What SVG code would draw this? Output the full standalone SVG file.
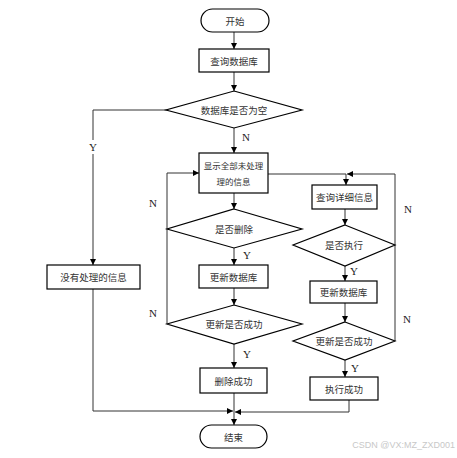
<svg xmlns="http://www.w3.org/2000/svg" width="457" height="458" viewBox="0 0 457 458">
<style>
.s{fill:#fff;stroke:#000;stroke-width:1.2}
.t{font-family:"Noto Sans CJK SC","Noto Sans",sans-serif;font-size:9.5px;fill:#333;text-anchor:middle;dominant-baseline:central}
.l{font-family:"Liberation Serif",serif;font-size:11px;fill:#222;text-anchor:middle;dominant-baseline:central}
.c{fill:none;stroke:#333;stroke-width:1}
</style>
<defs>
<marker id="a" viewBox="0 0 8 8" refX="8" refY="4" markerWidth="6" markerHeight="6" orient="auto" markerUnits="userSpaceOnUse">
<path d="M0,0 L8,4 L0,8 z" fill="#000"/>
</marker>
</defs>
<rect width="457" height="458" fill="#fff"/>
<g id="connectors">
<path class="c" d="M234,32 V49" marker-end="url(#a)"/>
<path class="c" d="M234,72 V91" marker-end="url(#a)"/>
<path class="c" d="M234,128 V153" marker-end="url(#a)"/>
<path class="c" d="M167,110 H93 V265" marker-end="url(#a)"/>
<path class="c" d="M93,289 V411 H233" marker-end="url(#a)"/>
<path class="c" d="M234,193 V209" marker-end="url(#a)"/>
<path class="c" d="M234,248 V265" marker-end="url(#a)"/>
<path class="c" d="M234,288 V305" marker-end="url(#a)"/>
<path class="c" d="M234,344 V368" marker-end="url(#a)"/>
<path class="c" d="M234,393 V425" marker-end="url(#a)"/>
<path class="c" d="M167,324 V173 H199" marker-end="url(#a)"/>
<path class="c" d="M268,174 H346 V185" marker-end="url(#a)"/>
<path class="c" d="M395,245 V174 H347" marker-end="url(#a)"/>
<path class="c" d="M395,341 V245"/>
<path class="c" d="M345,209 V225" marker-end="url(#a)"/>
<path class="c" d="M345,266 V281" marker-end="url(#a)"/>
<path class="c" d="M345,303 V322" marker-end="url(#a)"/>
<path class="c" d="M345,360 V377" marker-end="url(#a)"/>
<path class="c" d="M349,400 V412 H235" marker-end="url(#a)"/>
</g>
<g id="labels">
<rect x="88" y="140" width="11" height="14" fill="#fff"/>
<text class="l" x="93" y="147">Y</text>
<text class="l" x="246" y="137">N</text>
<text class="l" x="153" y="203">N</text>
<text class="l" x="153" y="313">N</text>
<text class="l" x="247" y="255">Y</text>
<text class="l" x="247" y="354">Y</text>
<text class="l" x="408" y="209">N</text>
<text class="l" x="407" y="319">N</text>
<text class="l" x="354" y="271">Y</text>
<text class="l" x="355" y="368">Y</text>
</g>
<g id="start"><rect class="s" x="201" y="9" width="68" height="23" rx="11.5"/><text class="t" x="235" y="20.5">开始</text></g>
<g id="query"><rect class="s" x="199" y="49" width="70" height="23"/><text class="t" x="234" y="60.5">查询数据库</text></g>
<g id="empty"><polygon class="s" points="234,91 302,110 234,128 166,110"/><text class="t" x="234" y="110">数据库是否为空</text></g>
<g id="none"><rect class="s" x="47" y="265" width="93" height="24"/><text class="t" x="93.5" y="277">没有处理的信息</text></g>
<g id="showall"><rect class="s" x="199" y="153" width="69" height="40"/><text class="t" x="233.5" y="165" style="font-size:8.5px">显示全部未处理</text><text class="t" x="233.5" y="181" style="font-size:8.5px">理的信息</text></g>
<g id="isdel"><polygon class="s" points="234,209 302,229 234,248 167,229"/><text class="t" x="234" y="229">是否删除</text></g>
<g id="upd1"><rect class="s" x="199" y="265" width="69" height="23"/><text class="t" x="233.5" y="276.5">更新数据库</text></g>
<g id="ok1"><polygon class="s" points="234,305 302,324 234,344 167,324"/><text class="t" x="234" y="324">更新是否成功</text></g>
<g id="delok"><rect class="s" x="200" y="368" width="67" height="25"/><text class="t" x="233.5" y="380.5">删除成功</text></g>
<g id="detail"><rect class="s" x="312" y="185" width="65" height="24"/><text class="t" x="344.5" y="197">查询详细信息</text></g>
<g id="isexec"><polygon class="s" points="345,225 395,245 345,266 293,245"/><text class="t" x="344" y="245">是否执行</text></g>
<g id="upd2"><rect class="s" x="310" y="281" width="67" height="22"/><text class="t" x="343.5" y="292">更新数据库</text></g>
<g id="ok2"><polygon class="s" points="345,322 395,341 345,360 293,341"/><text class="t" x="344" y="341">更新是否成功</text></g>
<g id="execok"><rect class="s" x="310" y="377" width="68" height="23"/><text class="t" x="344" y="388.5">执行成功</text></g>
<g id="end"><rect class="s" x="200" y="425" width="67" height="23" rx="11.5"/><text class="t" x="233.5" y="436.5">结束</text></g>
<text x="455" y="448" font-family="Liberation Sans,sans-serif" font-size="9" fill="#c8c8c8" text-anchor="end">CSDN @VX:MZ_ZXD001</text>
</svg>
